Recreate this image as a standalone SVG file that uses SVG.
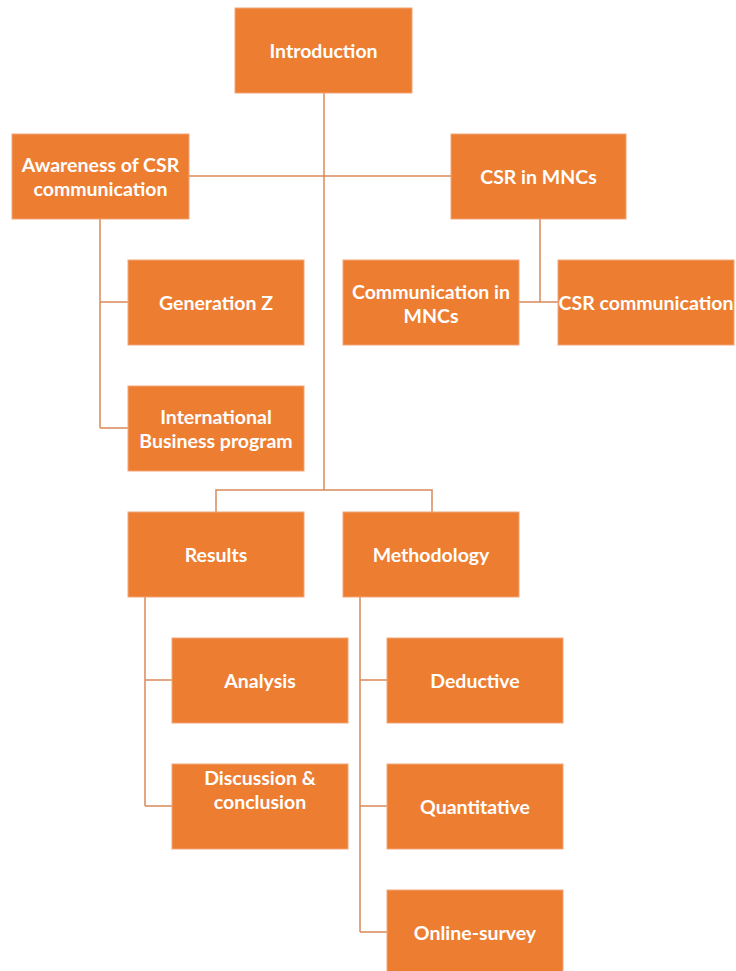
<svg xmlns="http://www.w3.org/2000/svg" width="736" height="971" viewBox="0 0 736 971">
<style>
.box{fill:#ED7D31;stroke:#F3A57A;stroke-width:1}
.t{font-family:Lato,"Open Sans",sans-serif;font-size:19.5px;font-weight:bold;fill:#FFFFFF;text-anchor:middle;dominant-baseline:central}
.c{fill:none;stroke:#D98A5A;stroke-width:1.5}
</style>
<rect width="736" height="971" fill="#FFFFFF"/>
<g id="connectors">
<path class="c" d="M324,93 V490"/>
<path class="c" d="M189,176 H451"/>
<path class="c" d="M100,219 V428 M100,302 H128 M100,428 H128"/>
<path class="c" d="M540,219 V302 M519,302 H558"/>
<path class="c" d="M216,512 V490 H432 V512"/>
<path class="c" d="M145,597 V806 M145,680 H172 M145,806 H172"/>
<path class="c" d="M360,597 V932 M360,680 H387 M360,806 H387 M360,932 H387"/>
</g>
<g id="introduction"><rect class="box" x="235" y="8" width="177" height="85"/><text class="t" x="323.5" y="50">Introduction</text></g>
<g id="awareness"><rect class="box" x="12" y="134" width="177" height="85"/><text class="t" x="100.5" y="164">Awareness of CSR</text><text class="t" x="100.5" y="188">communication</text></g>
<g id="csr-mncs"><rect class="box" x="451" y="134" width="175" height="85"/><text class="t" x="538.5" y="176">CSR in MNCs</text></g>
<g id="genz"><rect class="box" x="128" y="260" width="176" height="85"/><text class="t" x="216" y="302">Generation Z</text></g>
<g id="ibp"><rect class="box" x="128" y="386" width="176" height="85"/><text class="t" x="216" y="416">International</text><text class="t" x="216" y="440">Business program</text></g>
<g id="comm-mncs"><rect class="box" x="343" y="260" width="176" height="85"/><text class="t" x="431" y="291">Communication in</text><text class="t" x="431" y="315">MNCs</text></g>
<g id="csr-comm"><rect class="box" x="558" y="260" width="176" height="85"/><text class="t" x="646" y="302">CSR communication</text></g>
<g id="results"><rect class="box" x="128" y="512" width="176" height="85"/><text class="t" x="216" y="554">Results</text></g>
<g id="methodology"><rect class="box" x="343" y="512" width="176" height="85"/><text class="t" x="431" y="554">Methodology</text></g>
<g id="analysis"><rect class="box" x="172" y="638" width="176" height="85"/><text class="t" x="260" y="680">Analysis</text></g>
<g id="discussion"><rect class="box" x="172" y="764" width="176" height="85"/><text class="t" x="260" y="777">Discussion &amp;</text><text class="t" x="260" y="801">conclusion</text></g>
<g id="deductive"><rect class="box" x="387" y="638" width="176" height="85"/><text class="t" x="475" y="680">Deductive</text></g>
<g id="quantitative"><rect class="box" x="387" y="764" width="176" height="85"/><text class="t" x="475" y="806">Quantitative</text></g>
<g id="online-survey"><rect class="box" x="387" y="890" width="176" height="85"/><text class="t" x="475" y="932">Online-survey</text></g>
</svg>
